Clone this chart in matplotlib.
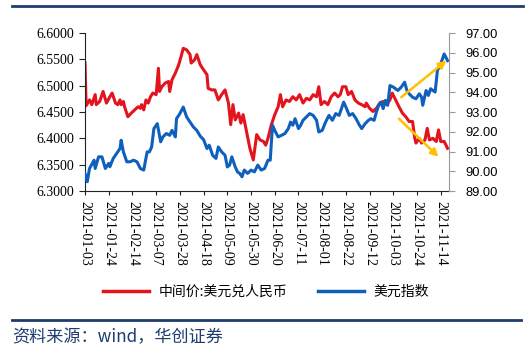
import pandas as pd
import matplotlib
matplotlib.use("Agg")
import matplotlib.pyplot as plt
from matplotlib.lines import Line2D

# 中间价:美元兑人民币 (left axis)
red_dates = ["2021-01-03", "2021-01-04", "2021-01-07", "2021-01-09", "2021-01-12", "2021-01-13",
             "2021-01-16", "2021-01-19", "2021-01-22", "2021-01-25", "2021-01-27", "2021-01-30",
             "2021-02-01", "2021-02-03", "2021-02-04", "2021-02-06", "2021-02-07", "2021-02-10",
             "2021-02-13", "2021-02-16", "2021-02-19", "2021-02-21", "2021-02-22", "2021-02-24",
             "2021-02-26", "2021-02-28", "2021-03-02", "2021-03-04", "2021-03-07", "2021-03-09",
             "2021-03-10", "2021-03-12", "2021-03-15", "2021-03-18", "2021-03-19", "2021-03-21",
             "2021-03-24", "2021-03-27", "2021-03-29", "2021-03-31", "2021-04-03", "2021-04-06",
             "2021-04-07", "2021-04-10", "2021-04-12", "2021-04-15", "2021-04-18", "2021-04-21",
             "2021-04-22", "2021-04-25", "2021-04-28", "2021-05-01", "2021-05-04", "2021-05-07",
             "2021-05-10", "2021-05-12", "2021-05-14", "2021-05-16", "2021-05-19", "2021-05-21",
             "2021-05-23", "2021-05-26", "2021-05-29", "2021-06-01", "2021-06-04", "2021-06-07",
             "2021-06-10", "2021-06-12", "2021-06-14", "2021-06-17", "2021-06-20", "2021-06-23",
             "2021-06-25", "2021-06-27", "2021-06-30", "2021-07-03", "2021-07-06", "2021-07-09",
             "2021-07-12", "2021-07-15", "2021-07-18", "2021-07-21", "2021-07-24", "2021-07-27",
             "2021-07-29", "2021-07-31", "2021-08-03", "2021-08-06", "2021-08-09", "2021-08-12",
             "2021-08-15", "2021-08-17", "2021-08-19", "2021-08-22", "2021-08-24", "2021-08-27",
             "2021-08-30", "2021-09-02", "2021-09-05", "2021-09-08", "2021-09-09", "2021-09-12",
             "2021-09-15", "2021-09-18", "2021-09-21", "2021-09-24", "2021-09-27", "2021-09-30",
             "2021-10-02", "2021-10-05", "2021-10-08", "2021-10-11", "2021-10-14", "2021-10-17",
             "2021-10-20", "2021-10-22", "2021-10-23", "2021-10-26", "2021-10-28", "2021-10-31",
             "2021-11-02", "2021-11-04", "2021-11-07", "2021-11-10", "2021-11-12", "2021-11-14",
             "2021-11-17", "2021-11-20"]
red_vals = [6.543, 6.462, 6.473, 6.464, 6.483, 6.464,
            6.470, 6.489, 6.467, 6.479, 6.486, 6.467,
            6.464, 6.473, 6.464, 6.470, 6.460, 6.441,
            6.448, 6.454, 6.460, 6.457, 6.464, 6.454,
            6.473, 6.467, 6.479, 6.486, 6.483, 6.533,
            6.489, 6.498, 6.505, 6.508, 6.489, 6.511,
            6.524, 6.540, 6.555, 6.571, 6.568, 6.559,
            6.543, 6.549, 6.559, 6.540, 6.530, 6.521,
            6.495, 6.492, 6.492, 6.473, 6.483, 6.492,
            6.467, 6.426, 6.464, 6.435, 6.448, 6.429,
            6.445, 6.413, 6.381, 6.359, 6.407, 6.397,
            6.394, 6.387, 6.400, 6.426, 6.445, 6.460,
            6.483, 6.460, 6.473, 6.470, 6.479, 6.473,
            6.483, 6.467, 6.476, 6.473, 6.483, 6.479,
            6.498, 6.464, 6.470, 6.464, 6.479, 6.486,
            6.479, 6.483, 6.498, 6.498, 6.483, 6.489,
            6.473, 6.467, 6.464, 6.460, 6.467, 6.457,
            6.451, 6.457, 6.467, 6.470, 6.464, 6.473,
            6.486, 6.473, 6.460, 6.448, 6.441, 6.432,
            6.432, 6.400, 6.391, 6.400, 6.391, 6.397,
            6.419, 6.397, 6.400, 6.394, 6.416, 6.394,
            6.394, 6.381]

# 美元指数 (right axis)
blue_dates = ["2021-01-03", "2021-01-05", "2021-01-07", "2021-01-11", "2021-01-12", "2021-01-15",
              "2021-01-18", "2021-01-21", "2021-01-24", "2021-01-25", "2021-01-28", "2021-01-31",
              "2021-02-03", "2021-02-04", "2021-02-06", "2021-02-09", "2021-02-12", "2021-02-15",
              "2021-02-18", "2021-02-21", "2021-02-24", "2021-02-27", "2021-03-01", "2021-03-03",
              "2021-03-05", "2021-03-08", "2021-03-11", "2021-03-13", "2021-03-16", "2021-03-19",
              "2021-03-21", "2021-03-24", "2021-03-25", "2021-03-28", "2021-03-31", "2021-04-03",
              "2021-04-06", "2021-04-09", "2021-04-12", "2021-04-15", "2021-04-18", "2021-04-21",
              "2021-04-23", "2021-04-26", "2021-04-29", "2021-05-01", "2021-05-04", "2021-05-07",
              "2021-05-09", "2021-05-11", "2021-05-13", "2021-05-16", "2021-05-18", "2021-05-20",
              "2021-05-22", "2021-05-24", "2021-05-27", "2021-05-30", "2021-06-02", "2021-06-05",
              "2021-06-08", "2021-06-11", "2021-06-14", "2021-06-16", "2021-06-18", "2021-06-20",
              "2021-06-23", "2021-06-26", "2021-06-29", "2021-07-02", "2021-07-04", "2021-07-06",
              "2021-07-08", "2021-07-11", "2021-07-13", "2021-07-15", "2021-07-18", "2021-07-21",
              "2021-07-24", "2021-07-27", "2021-07-29", "2021-08-01", "2021-08-04", "2021-08-07",
              "2021-08-10", "2021-08-13", "2021-08-16", "2021-08-20", "2021-08-22", "2021-08-25",
              "2021-08-28", "2021-08-31", "2021-09-03", "2021-09-05", "2021-09-08", "2021-09-11",
              "2021-09-13", "2021-09-16", "2021-09-18", "2021-09-20", "2021-09-22", "2021-09-24",
              "2021-09-26", "2021-09-28", "2021-09-30", "2021-10-03", "2021-10-07", "2021-10-10",
              "2021-10-13", "2021-10-15", "2021-10-17", "2021-10-20", "2021-10-23", "2021-10-26",
              "2021-10-28", "2021-10-29", "2021-11-01", "2021-11-03", "2021-11-05", "2021-11-07",
              "2021-11-09", "2021-11-11", "2021-11-14", "2021-11-17", "2021-11-20"]
blue_vals = [89.89, 89.47, 90.14, 90.56, 90.14, 90.73,
             90.73, 90.14, 90.40, 90.23, 90.65, 90.90,
             91.15, 91.57, 90.98, 90.48, 90.48, 90.56,
             90.48, 90.14, 90.06, 90.98, 90.98, 91.23,
             92.16, 92.41, 91.49, 91.74, 91.91, 91.82,
             92.07, 91.74, 92.66, 92.92, 93.25, 92.75,
             92.49, 92.24, 92.07, 91.78, 91.60, 91.15,
             91.32, 90.81, 90.65, 91.23, 90.98, 90.81,
             90.22, 90.31, 90.73, 90.22, 89.97, 89.89,
             89.72, 90.06, 89.89, 90.06, 89.97, 90.31,
             90.06, 90.14, 90.56, 90.56, 92.33, 92.07,
             91.74, 91.82, 91.91, 92.16, 92.49, 92.33,
             92.66, 92.16, 92.33, 92.58, 92.75, 92.92,
             92.83, 92.58, 91.99, 92.07, 92.49, 92.83,
             92.58, 92.92, 92.83, 93.50, 93.25, 92.83,
             92.92, 92.66, 92.33, 92.16, 92.41, 92.58,
             92.66, 92.58, 93.00, 93.34, 93.50, 93.17,
             93.59, 93.34, 94.34, 94.26, 94.09, 94.26,
             94.51, 94.09, 93.92, 93.75, 93.67, 93.92,
             93.75, 93.34, 94.09, 93.84, 94.18, 94.09,
             94.01, 95.10, 95.44, 95.94, 95.60]

# trend arrows (right-axis units)
arrow_up = (("2021-10-10", 93.75), ("2021-11-19", 95.60))
arrow_down = (("2021-10-08", 92.66), ("2021-11-12", 90.73))

red = "#E3141E"
blue = "#0F5FBD"
navy = "#1F3C6E"
gold = "#FFC000"

fig = plt.figure(figsize=(5.27, 3.49), dpi=100)
ax = fig.add_axes([0.1613, 0.4527, 0.6901, 0.4527])
ax2 = ax.twinx()

ax.plot(pd.to_datetime(red_dates), red_vals, color=red, lw=2.2, solid_joinstyle="round")
ax2.plot(pd.to_datetime(blue_dates), blue_vals, color=blue, lw=2.2, solid_joinstyle="round")

ax.set_ylim(6.3, 6.6)
ax.set_yticks([6.30, 6.35, 6.40, 6.45, 6.50, 6.55, 6.60])
ax.set_yticklabels([f"{v:.4f}" for v in ax.get_yticks()], fontfamily="Liberation Serif", fontsize=10)
ax2.set_ylim(89, 97)
ax2.set_yticks(range(89, 98))
ax2.set_yticklabels([f"{v:.2f}" for v in range(89, 98)], fontfamily="Liberation Sans", fontsize=9.3)

ax.set_xlim(pd.Timestamp("2021-01-03"), pd.Timestamp("2021-11-21"))
xt = pd.date_range("2021-01-03", "2021-11-14", freq="21D")
ax.set_xticks(xt)
ax.set_xticklabels([d.strftime("%Y-%m-%d") for d in xt], rotation=270,
                   fontfamily="Liberation Serif", fontsize=10, ha="center", va="top")

for a in (ax, ax2):
    a.spines["top"].set_visible(False)
ax.spines["right"].set_visible(False)
ax2.spines["left"].set_visible(False)
ax2.spines["bottom"].set_visible(False)
ax.spines["left"].set_color("#222222")
ax.spines["bottom"].set_color("#222222")
ax2.spines["right"].set_color("#9A9A9A")
ax.tick_params(axis="y", direction="out", length=4, width=0.8, color="#222222", pad=3.5)
ax.tick_params(axis="x", direction="out", length=3, width=0.8, color="#222222", pad=4)
ax2.tick_params(axis="y", direction="out", length=4, width=0.8, color="#9A9A9A", pad=8)

for (s, e) in (arrow_up, arrow_down):
    ax2.annotate("", xy=(pd.Timestamp(e[0]), e[1]), xytext=(pd.Timestamp(s[0]), s[1]),
                 arrowprops=dict(arrowstyle="-|>", color=gold, lw=1.8, mutation_scale=11,
                                 shrinkA=0, shrinkB=0))

handles = [Line2D([], [], color=red, lw=2.5), Line2D([], [], color=blue, lw=2.5)]
fig.legend(handles, ["中间价:美元兑人民币", "美元指数"], loc="center", bbox_to_anchor=(0.505, 0.164),
           ncol=2, frameon=False, handlelength=3.3, handletextpad=0.7, columnspacing=2.2,
           prop={"family": "Noto Sans CJK SC", "size": 10})

# header / footer rules and source note
fig.add_artist(Line2D([0.023, 0.992], [0.983, 0.983], transform=fig.transFigure, color=navy, lw=2))
fig.add_artist(Line2D([0.023, 0.988], [0.083, 0.083], transform=fig.transFigure, color=navy, lw=2))
fig.text(0.023, 0.035, "资料来源：wind，华创证券", fontfamily="Noto Sans CJK SC", fontsize=12.3,
         color=navy, style="italic", va="center", ha="left")

fig.savefig("out.png", dpi=100)
